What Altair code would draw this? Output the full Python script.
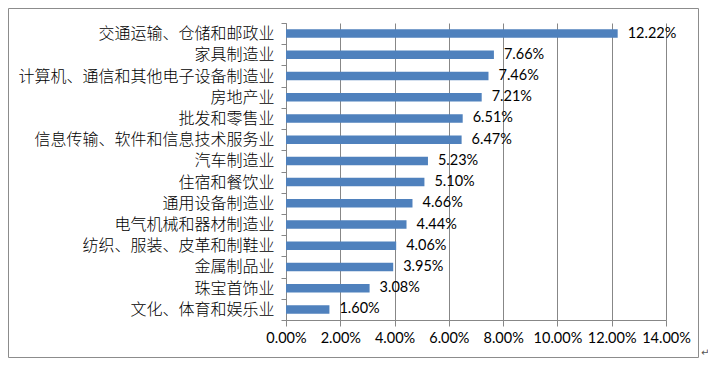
import altair as alt
import pandas as pd

categories = [
    "交通运输、仓储和邮政业",
    "家具制造业",
    "计算机、通信和其他电子设备制造业",
    "房地产业",
    "批发和零售业",
    "信息传输、软件和信息技术服务业",
    "汽车制造业",
    "住宿和餐饮业",
    "通用设备制造业",
    "电气机械和器材制造业",
    "纺织、服装、皮革和制鞋业",
    "金属制品业",
    "珠宝首饰业",
    "文化、体育和娱乐业",
]
values_pct = [12.22, 7.66, 7.46, 7.21, 6.51, 6.47, 5.23, 5.10, 4.66, 4.44, 4.06, 3.95, 3.08, 1.60]
x_ticks_pct = [0, 2, 4, 6, 8, 10, 12, 14]

df = pd.DataFrame({"industry": categories, "share": [v / 100 for v in values_pct]})

GRID = "#878787"
W, H = 380, 297

y_enc = alt.Y(
    "industry:N",
    sort=categories,
    scale=alt.Scale(paddingInner=0, paddingOuter=0),
    axis=alt.Axis(
        title=None,
        tickBand="extent",
        tickSize=5,
        tickColor=GRID,
        domainColor=GRID,
        labelPadding=7,
        labelFont="Noto Sans CJK SC",
        labelFontSize=16,
        labelFontWeight=300,
        labelColor="black",
        labelLimit=400,
        grid=False,
    ),
)

x_enc = alt.X(
    "share:Q",
    scale=alt.Scale(domain=[0, 0.14], nice=False, zero=True),
    axis=alt.Axis(
        title=None,
        values=[t / 100 for t in x_ticks_pct],
        format=".2%",
        grid=True,
        gridColor=GRID,
        gridOpacity=1,
        domainColor=GRID,
        tickColor=GRID,
        tickSize=6,
        labelPadding=5,
        labelFont="Lato",
        labelFontSize=14.5,
        labelColor="black",
        labelFlush=False,
    ),
)

base = alt.Chart(df)

bars = base.mark_bar(color="#4F81BD", height=alt.RelativeBandSize(0.4)).encode(
    x=x_enc, y=y_enc
)

labels = base.mark_text(
    align="left", baseline="middle", dx=10, font="Lato", fontSize=14.5, color="black"
).encode(
    x=alt.X("share:Q"),
    y=alt.Y("industry:N", sort=categories),
    text=alt.Text("share:Q", format=".2%"),
)

frame = alt.Chart(alt.Data(values=[{"a": 1}])).mark_rect(
    fill="transparent", stroke="#8C8C8C", strokeWidth=1
).encode(
    x=alt.value(-277.5), x2=alt.value(412.5), y=alt.value(-14.5), y2=alt.value(334.5)
)

ret = alt.Chart(alt.Data(values=[{"t": "↵"}])).mark_text(
    fontSize=10, color="#555555", align="left", baseline="middle", font="DejaVu Sans"
).encode(x=alt.value(415), y=alt.value(330), text="t:N")

chart = (
    alt.layer(frame, bars, labels, ret)
    .properties(
        width=W,
        height=H,
        autosize=alt.AutoSizeParams(type="none"),
        padding={"left": 278, "top": 15, "right": 42, "bottom": 38},
        background="white",
    )
    .configure_view(stroke="transparent")
)

chart.save("out.html", embed_options={"renderer": "svg", "actions": False})
